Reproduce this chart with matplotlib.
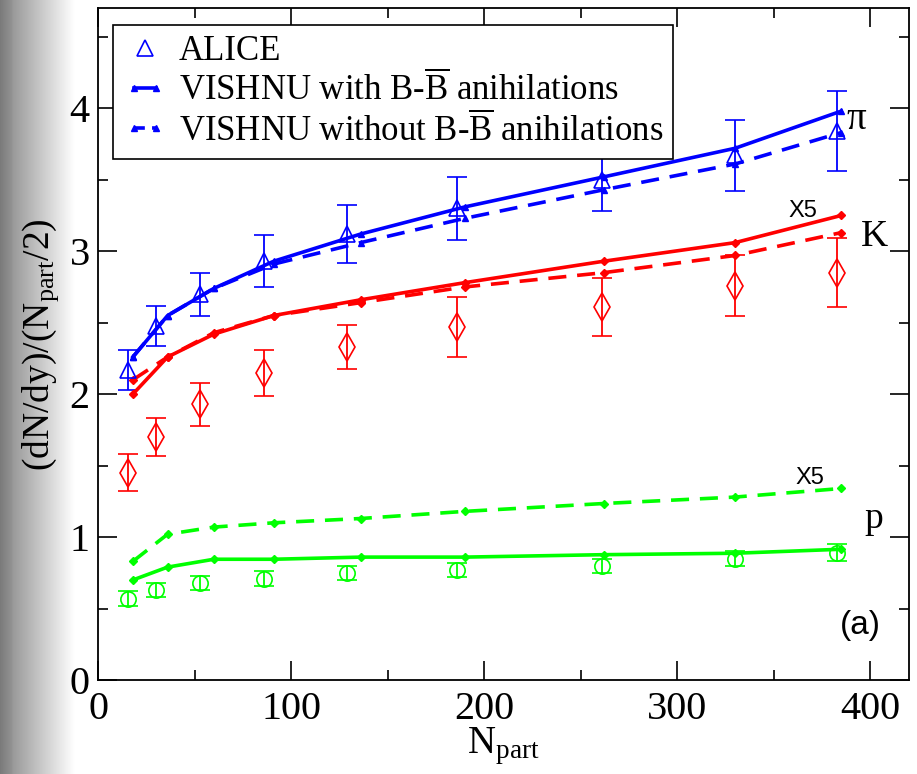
import numpy as np
import matplotlib
matplotlib.use("Agg")
import matplotlib.pyplot as plt
from matplotlib.lines import Line2D
from matplotlib.legend_handler import HandlerLine2D

plt.rcParams['font.family'] = ['Liberation Serif', 'DejaVu Serif']
plt.rcParams['mathtext.fontset'] = 'custom'
plt.rcParams['mathtext.rm'] = 'Liberation Serif'
plt.rcParams['mathtext.it'] = 'Liberation Serif:italic'

# ALICE data
npart_data = [15.6, 30.0, 53.0, 86.0, 129.0, 186.0, 261.0, 330.0, 383.0]
pi_data = [2.17, 2.48, 2.70, 2.93, 3.12, 3.30, 3.50, 3.67, 3.84]
pi_err = [0.14, 0.14, 0.15, 0.18, 0.20, 0.22, 0.22, 0.25, 0.28]
k_data = [1.45, 1.70, 1.93, 2.15, 2.33, 2.47, 2.61, 2.76, 2.85]
k_err = [0.13, 0.13, 0.15, 0.16, 0.155, 0.21, 0.20, 0.21, 0.24]
p_data = [0.57, 0.63, 0.68, 0.71, 0.75, 0.77, 0.80, 0.85, 0.89]
p_err = [0.05, 0.05, 0.05, 0.05, 0.05, 0.05, 0.05, 0.05, 0.06]

# VISHNU model
npart_model = [18.0, 36.0, 60.0, 91.0, 136.0, 190.0, 262.0, 330.0, 385.0]
pi_with = [2.26, 2.55, 2.74, 2.93, 3.12, 3.31, 3.52, 3.72, 3.98]
pi_without = [2.26, 2.55, 2.74, 2.91, 3.06, 3.23, 3.43, 3.61, 3.83]
k_with = [2.00, 2.26, 2.42, 2.55, 2.66, 2.78, 2.93, 3.06, 3.25]
k_without = [2.10, 2.26, 2.43, 2.55, 2.64, 2.75, 2.85, 2.97, 3.13]
p_with = [0.70, 0.79, 0.845, 0.845, 0.86, 0.86, 0.877, 0.887, 0.915]
p_without = [0.83, 1.02, 1.07, 1.10, 1.13, 1.18, 1.235, 1.28, 1.34]

xticks = [0, 100, 200, 300, 400]
yticks = [0, 1, 2, 3, 4]

blue = '#0000ff'
red = '#ff0000'
green = '#00ff00'
serif = ['Liberation Serif', 'DejaVu Serif']

fig = plt.figure(figsize=(9.17, 7.74), dpi=100)

# grey slide edge on the left
bg = fig.add_axes([0, 0, 0.085, 1], zorder=-5)
xs = np.linspace(0, 1, 200)
shade = np.where(xs < 0.16, 0.48 + 0.1 * xs / 0.16, np.clip(0.6 + 0.4 * (xs - 0.16) / 0.8, 0, 1))
bg.imshow(shade[None, :], cmap='gray', vmin=0, vmax=1, aspect='auto', extent=[0, 1, 0, 1])
bg.axis('off')

ax = fig.add_axes([0.107, 0.1214, 0.884, 0.868])

ebkw = dict(linestyle='none', capsize=7, elinewidth=1.3, capthick=1.3, mfc='none', mew=1.2)
ax.errorbar(npart_data, pi_data, yerr=pi_err, marker='^', ms=12, color=blue, **ebkw)
ax.errorbar(npart_data, k_data, yerr=k_err, marker='d', ms=14, color=red, **ebkw)
ax.errorbar(npart_data, p_data, yerr=p_err, marker='o', ms=11, color=green, **ebkw)

lkw = dict(lw=2.6, ms=5)
ax.plot(npart_model, pi_with, '-', marker='^', color=blue, **lkw)
ax.plot(npart_model, pi_without, '--', marker='^', color=blue, dashes=(5, 3), **lkw)
ax.plot(npart_model, k_with, '-', marker='D', color=red, lw=2.6, ms=4)
ax.plot(npart_model, k_without, '--', marker='D', color=red, dashes=(5, 3), lw=2.6, ms=4)
ax.plot(npart_model, p_with, '-', marker='D', color=green, lw=2.6, ms=4)
ax.plot(npart_model, p_without, '--', marker='D', color=green, dashes=(5, 3), lw=2.6, ms=4)

ax.set_xlim(0, 420)
ax.set_ylim(0, 4.7)
ax.set_xticks(xticks, labels=[str(v) for v in xticks], fontfamily=serif, fontsize=29)
ax.set_xticks([50, 150, 250, 350], minor=True)
ax.set_yticks(yticks, labels=[str(v) for v in yticks], fontfamily=serif, fontsize=29)
ax.set_yticks([0.5, 1.5, 2.5, 3.5, 4.5], minor=True)
ax.tick_params(which='both', direction='in', top=True, right=True, width=1.2)
ax.tick_params(which='major', length=14)
ax.tick_params(axis='x', which='major', pad=8)
ax.tick_params(axis='y', which='major', pad=6)
ax.tick_params(which='minor', length=7)
for s in ax.spines.values():
    s.set_linewidth(1.3)

ax.set_xlabel(r'N$_{\rm part}$', fontsize=28, labelpad=-2)
ax.set_ylabel(r'(dN/dy)/(N$_{\rm part}$/2)', fontsize=27, labelpad=6)

ax.text(393, 3.92, '\u03c0', fontsize=28, ha='center', va='center', family=serif)
ax.text(402, 3.10, 'K', fontsize=27, ha='center', va='center')
ax.text(402, 1.13, 'p', fontsize=27, ha='center', va='center')
ax.text(365, 3.28, 'X5', fontsize=17, family='Liberation Sans', ha='center', va='center')
ax.text(369, 1.41, 'X5', fontsize=17, family='Liberation Sans', ha='center', va='center')
ax.text(395, 0.38, '(a)', fontsize=24, family='Liberation Sans', ha='center', va='center')

alice_h = Line2D([], [], linestyle='none', marker='^', ms=11, mfc='none', mec=blue, mew=1.2)
handles = [
    alice_h,
    Line2D([], [], linestyle='-', color=blue, lw=2.6, marker='^', ms=5),
    Line2D([], [], linestyle='--', dashes=(3, 2), color=blue, lw=2.6, marker='^', ms=5),
]
labels = ['ALICE',
          r'VISHNU with B-$\overline{\rm B}$ anihilations',
          r'VISHNU without B-$\overline{\rm B}$ anihilations']
leg = ax.legend(handles, labels, loc='upper left', bbox_to_anchor=(0.018, 0.975),
                borderaxespad=0, fontsize=25, numpoints=2, handlelength=1.25,
                handletextpad=0.35, labelspacing=0.1, borderpad=0.3, fancybox=False,
                edgecolor='black', framealpha=1,
                handler_map={alice_h: HandlerLine2D(numpoints=1)})
leg.get_frame().set_linewidth(1.2)

fig.savefig('out.png', dpi=100)
